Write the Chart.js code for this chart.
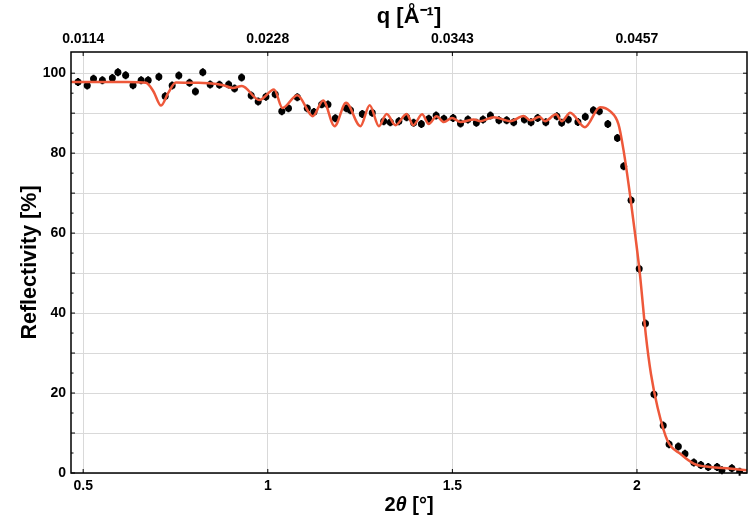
<!DOCTYPE html>
<html>
<head>
<meta charset="utf-8">
<script src="https://cdn.jsdelivr.net/npm/chart.js"></script>
<style>
  html, body { margin: 0; padding: 0; background: #fff; }
  #wrap { width: 748px; height: 521px; }
</style>
</head>
<body>
<div id="wrap"><canvas id="myChart"></canvas></div>
<script>
// measured reflectivity: 2theta [deg] / reflectivity [%]
var twoTheta = [0.486, 0.511, 0.528, 0.552, 0.579, 0.594, 0.615, 0.635, 0.657, 0.676,
  0.705, 0.722, 0.741, 0.759, 0.788, 0.804, 0.824, 0.844, 0.869, 0.894,
  0.910, 0.929, 0.955, 0.974, 0.995, 1.020, 1.038, 1.056, 1.080, 1.107,
  1.125, 1.146, 1.163, 1.183, 1.213, 1.224, 1.256, 1.283, 1.314, 1.332,
  1.355, 1.376, 1.395, 1.416, 1.436, 1.456, 1.477, 1.502, 1.522, 1.542,
  1.565, 1.583, 1.603, 1.626, 1.647, 1.666, 1.695, 1.713, 1.731, 1.753,
  1.783, 1.796, 1.814, 1.840, 1.860, 1.882, 1.898, 1.921, 1.947, 1.964,
  1.984, 2.006, 2.023, 2.046, 2.071, 2.087, 2.112, 2.130, 2.154, 2.173,
  2.193, 2.217, 2.230, 2.257, 2.278];
var reflectivity = [97.8, 96.9, 98.6, 98.25, 98.8, 100.25, 99.5, 97.0, 98.25, 98.25,
  99.1, 94.25, 96.9, 99.4, 97.6, 95.4, 100.25, 97.2, 97.1, 97.2,
  96.2, 98.9, 94.4, 92.9, 94.1, 94.75, 90.5, 91.2, 94.0, 91.2,
  90.3, 92.2, 92.2, 88.7, 91.2, 90.7, 89.8, 90.1, 88.0, 87.75,
  88.0, 89.0, 87.6, 87.3, 88.6, 89.4, 88.6, 88.8, 87.4, 88.4,
  87.6, 88.4, 89.4, 88.25, 88.2, 87.75, 88.4, 87.75, 88.8, 87.75,
  89.25, 87.6, 88.4, 87.8, 89.1, 90.7, 90.5, 87.3, 83.8, 76.75,
  68.25, 51.1, 37.4, 19.7, 11.9, 7.2, 6.6, 4.8, 2.6, 2.0,
  1.5, 1.5, 0.7, 1.2, 0.3];
var errorBar = 1.0;

// fitted model curve
var fitTwoTheta = [0.467, 0.550, 0.620, 0.670, 0.690, 0.711, 0.730, 0.751, 0.800, 0.840,
  0.880, 0.905, 0.930, 0.977, 1.017, 1.040, 1.080, 1.122, 1.150, 1.181,
  1.212, 1.251, 1.276, 1.301, 1.322, 1.346, 1.376, 1.394, 1.418, 1.436,
  1.457, 1.477, 1.499, 1.522, 1.558, 1.576, 1.612, 1.657, 1.693, 1.711,
  1.736, 1.751, 1.781, 1.796, 1.819, 1.859, 1.900, 1.927, 1.950, 1.964,
  1.981, 1.995, 2.008, 2.024, 2.038, 2.056, 2.083, 2.119, 2.155, 2.197,
  2.251, 2.298];
var fitReflectivity = [97.8, 97.8, 97.8, 97.6, 95.5, 91.9, 95.0, 97.7, 97.6, 97.5,
  97.0, 96.3, 96.8, 93.3, 95.9, 91.3, 94.5, 89.25, 93.2, 86.75,
  92.6, 86.75, 92.0, 86.75, 89.8, 87.0, 89.8, 87.0, 89.7, 87.3,
  89.25, 87.8, 88.8, 87.8, 88.4, 88.0, 89.0, 88.0, 89.3, 88.2,
  89.1, 88.0, 89.7, 88.0, 90.1, 86.5, 91.5, 90.5, 87.2, 80.5,
  69.7, 59.7, 49.7, 34.5, 24.7, 16.3, 8.0, 4.7, 2.3, 1.5,
  1.1, 0.7];

// axis ticks
var angleTicks = [0.5, 1, 1.5, 2];
var qTickLabels = ['0.0114', '0.0228', '0.0343', '0.0457'];
var yTicks = [0, 10, 20, 30, 40, 50, 60, 70, 80, 90, 100];
var yMinorTicks = [5, 15, 25, 35, 45, 55, 65, 75, 85, 95];

var pointsData = twoTheta.map(function (x, i) { return { x: x, y: reflectivity[i] }; });
var fitData = fitTwoTheta.map(function (x, i) { return { x: x, y: fitReflectivity[i] }; });

var font = 'Liberation Sans, Arial, sans-serif';

// little vertical error bars under the dots
var errorBars = {
  id: 'errorBars',
  beforeDatasetsDraw: function (chart) {
    var ctx = chart.ctx, xs = chart.scales.x, ys = chart.scales.y;
    ctx.save();
    ctx.strokeStyle = '#000';
    ctx.lineWidth = 2;
    ctx.beginPath();
    for (var i = 0; i < twoTheta.length; i++) {
      var px = xs.getPixelForValue(twoTheta[i]);
      ctx.moveTo(px, ys.getPixelForValue(reflectivity[i] - errorBar));
      ctx.lineTo(px, ys.getPixelForValue(reflectivity[i] + errorBar));
    }
    ctx.stroke();
    ctx.restore();
  }
};

// black frame round the plot, inward ticks, and the 2θ title (italic theta)
var frame = {
  id: 'frame',
  afterDraw: function (chart) {
    var a = chart.chartArea, ctx = chart.ctx;
    var xs = chart.scales.x, ys = chart.scales.y;
    ctx.save();
    ctx.strokeStyle = '#000';
    ctx.lineWidth = 1.5;
    ctx.strokeRect(a.left, a.top, a.right - a.left, a.bottom - a.top);

    ctx.lineWidth = 1;
    ctx.beginPath();
    yTicks.forEach(function (v) {
      var py = ys.getPixelForValue(v);
      ctx.moveTo(a.left, py); ctx.lineTo(a.left + 4, py);
      ctx.moveTo(a.right, py); ctx.lineTo(a.right - 4, py);
    });
    yMinorTicks.forEach(function (v) {
      var py = ys.getPixelForValue(v);
      ctx.moveTo(a.left, py); ctx.lineTo(a.left + 2.5, py);
      ctx.moveTo(a.right, py); ctx.lineTo(a.right - 2.5, py);
    });
    angleTicks.forEach(function (v) {
      var px = xs.getPixelForValue(v);
      ctx.moveTo(px, a.bottom); ctx.lineTo(px, a.bottom - 4);
      ctx.moveTo(px, a.top); ctx.lineTo(px, a.top + 4);
    });
    ctx.stroke();

    // bottom axis title: 2θ [°]
    var parts = [
      { t: '2', f: 'bold 20px ' + font },
      { t: 'θ', f: 'italic bold 20px ' + font },
      { t: ' [°]', f: 'bold 20px ' + font }
    ];
    var total = 0;
    parts.forEach(function (p) { ctx.font = p.f; p.w = ctx.measureText(p.t).width; total += p.w; });
    var cx = (a.left + a.right) / 2 - total / 2;
    ctx.fillStyle = '#000';
    ctx.textBaseline = 'middle';
    ctx.textAlign = 'left';
    parts.forEach(function (p) { ctx.font = p.f; ctx.fillText(p.t, cx, 505); cx += p.w; });
    ctx.restore();
  }
};

function setTicks(list) {
  return function (scale) {
    scale.ticks = list.map(function (v) { return { value: v }; });
  };
}

var ctx = document.getElementById('myChart').getContext('2d');
var myChart = new Chart(ctx, {
  type: 'scatter',
  data: {
    datasets: [{
      label: 'fit',
      data: fitData,
      showLine: true,
      borderColor: 'rgb(238, 88, 58)',
      borderWidth: 2.5,
      pointRadius: 0,
      cubicInterpolationMode: 'monotone',
      fill: false
    }, {
      label: 'data',
      data: pointsData,
      showLine: false,
      pointRadius: 3.5,
      pointBackgroundColor: '#000',
      pointBorderWidth: 0,
      borderColor: '#000'
    }]
  },
  options: {
    responsive: true,
    maintainAspectRatio: false,
    animation: false,
    layout: { autoPadding: false, padding: { left: 0, right: 1, top: 0, bottom: 0 } },
    plugins: { legend: { display: false }, tooltip: { enabled: false } },
    scales: {
      x: {
        type: 'linear',
        position: 'bottom',
        min: 0.467,
        max: 2.298,
        afterBuildTicks: setTicks(angleTicks),
        afterFit: function (s) { s.height = 48; },
        grid: { color: '#d9d9d9', drawTicks: false },
        border: { display: false },
        ticks: {
          padding: 5,
          color: '#000',
          maxRotation: 0,
          font: { family: font, size: 14, weight: 'bold' },
          callback: function (v) { return String(v); }
        },
        title: { display: false }
      },
      x2: {
        type: 'linear',
        position: 'top',
        min: 0.467,
        max: 2.298,
        afterBuildTicks: setTicks(angleTicks),
        afterFit: function (s) { s.height = 52; },
        grid: { display: false, drawTicks: false },
        border: { display: false },
        ticks: {
          padding: 4,
          color: '#000',
          maxRotation: 0,
          font: { family: font, size: 14, weight: 'bold' },
          callback: function (v, i) { return qTickLabels[i]; }
        },
        title: {
          display: true,
          text: 'q [Å⁻¹]',
          color: '#000',
          padding: { top: 4, bottom: 0 },
          font: { family: font, size: 22, weight: 'bold' }
        }
      },
      y: {
        type: 'linear',
        min: 0,
        max: 105.3,
        afterBuildTicks: setTicks(yTicks),
        afterFit: function (s) { s.width = 71; },
        grid: { color: '#d9d9d9', drawTicks: false },
        border: { display: false },
        ticks: {
          padding: 5,
          color: '#000',
          font: { family: font, size: 14, weight: 'bold' },
          callback: function (v) { return v % 20 === 0 ? v : ''; }
        },
        title: {
          display: true,
          text: 'Reflectivity [%]',
          color: '#000',
          padding: { top: 17, bottom: 0 },
          font: { family: font, size: 21.5, weight: 'bold' }
        }
      }
    }
  },
  plugins: [errorBars, frame]
});
</script>
</body>
</html>
